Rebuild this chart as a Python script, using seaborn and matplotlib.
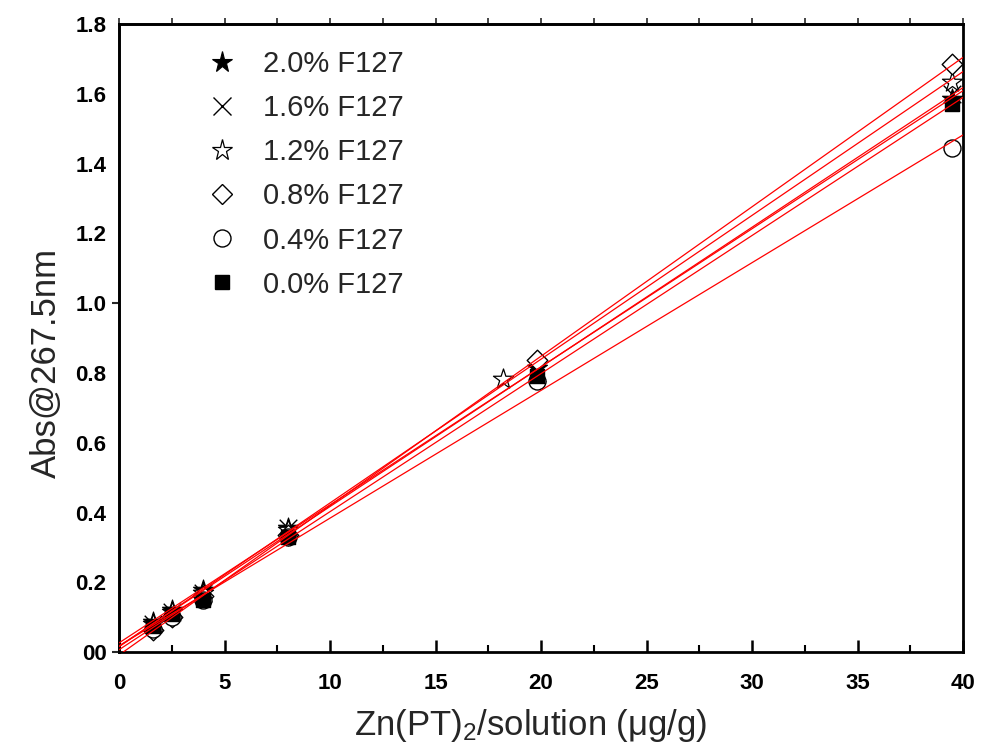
import matplotlib
matplotlib.use("Agg")
import matplotlib.pyplot as plt
import seaborn as sns
import numpy as np
import pandas as pd
from matplotlib.lines import Line2D

# ---- data ----
series_labels = ["2.0% F127", "1.6% F127", "1.2% F127", "0.8% F127", "0.4% F127", "0.0% F127"]
x_common = [1.6, 2.5, 4.0, 8.0, 19.8, 39.5]
x_12 = [1.6, 2.5, 4.0, 8.0, 18.2, 39.5]
y_20 = [0.085, 0.122, 0.178, 0.357, 0.815, 1.585]
y_16 = [0.080, 0.115, 0.170, 0.355, 0.800, 1.600]
y_12 = [0.080, 0.115, 0.170, 0.350, 0.784, 1.635]
y_08 = [0.063, 0.100, 0.160, 0.335, 0.836, 1.685]
y_04 = [0.065, 0.100, 0.150, 0.330, 0.778, 1.445]
y_00 = [0.075, 0.110, 0.150, 0.330, 0.790, 1.570]
x_ticks = [0, 5, 10, 15, 20, 25, 30, 35, 40]
y_ticks = [0.0, 0.2, 0.4, 0.6, 0.8, 1.0, 1.2, 1.4, 1.6, 1.8]
y_ticklabels = ["00", "0.2", "0.4", "0.6", "0.8", "1.0", "1.2", "1.4", "1.6", "1.8"]

xs = [x_common, x_common, x_12, x_common, x_common, x_common]
ys = [y_20, y_16, y_12, y_08, y_04, y_00]

styles = [
    dict(marker="*", s=230, facecolor="black", edgecolor="black", lw=0.8),
    dict(marker="x", s=160, facecolor="black", edgecolor="black", lw=1.0),
    dict(marker="*", s=230, facecolor="white", edgecolor="black", lw=0.9),
    dict(marker="D", s=110, facecolor="white", edgecolor="black", lw=1.0),
    dict(marker="o", s=150, facecolor="white", edgecolor="black", lw=1.0),
    dict(marker="s", s=110, facecolor="black", edgecolor="black", lw=1.0),
]

sns.set_theme(style="white")
plt.rcParams["font.family"] = ["Liberation Sans", "DejaVu Sans"]
plt.rcParams["mathtext.fontset"] = "custom"
plt.rcParams["mathtext.rm"] = "Liberation Sans"
plt.rcParams["mathtext.it"] = "Liberation Sans"
plt.rcParams["mathtext.bf"] = "Liberation Sans:bold"

fig = plt.figure(figsize=(9.84, 7.53), dpi=100)
ax = fig.add_axes([0.121, 0.134, 0.8577, 0.834])
ax.set_xlim(0, 40)
ax.set_ylim(0, 1.8)

handles = []
for lab, x, y, st in zip(series_labels, xs, ys, styles):
    df = pd.DataFrame({"x": x, "y": y})
    if st["marker"] == "x":
        sns.scatterplot(data=df, x="x", y="y", ax=ax, marker="x", s=st["s"],
                        color="black", linewidth=st["lw"], zorder=3)
    else:
        sns.scatterplot(data=df, x="x", y="y", ax=ax, marker=st["marker"], s=st["s"],
                        facecolor=st["facecolor"], edgecolor=st["edgecolor"],
                        linewidth=st["lw"], zorder=3)
    sns.regplot(data=df, x="x", y="y", ax=ax, scatter=False, ci=None, truncate=False,
                line_kws=dict(color="red", lw=0.9, zorder=4))
    ms = np.sqrt(st["s"])
    if st["marker"] == "x":
        h = Line2D([], [], marker="x", ls="none", color="black", markersize=ms, mew=1.0)
    else:
        h = Line2D([], [], marker=st["marker"], ls="none", markerfacecolor=st["facecolor"],
                   markeredgecolor="black", markersize=ms, mew=st["lw"])
    handles.append(h)

ax.set_xlim(0, 40)
ax.set_ylim(0, 1.8)
ax.set_xticks(x_ticks)
ax.set_xticklabels([str(t) for t in x_ticks])
ax.set_yticks(y_ticks)
ax.set_yticklabels(y_ticklabels)
ax.set_xticks(np.arange(2.5, 40, 5), minor=True)
ax.set_yticks(np.arange(0.1, 1.8, 0.2), minor=True)

for sp in ax.spines.values():
    sp.set_visible(True)
    sp.set_color("black")
    sp.set_linewidth(2.0)

ax.tick_params(axis="both", which="major", direction="in", length=9, width=1.8,
               colors="black", labelsize=16)
ax.tick_params(axis="y", which="major", pad=9)
ax.tick_params(axis="x", which="major", pad=15)
ax.tick_params(axis="both", which="minor", direction="in", length=5, width=1.5, colors="black")
ax.tick_params(axis="x", which="both", top=False, bottom=True, labeltop=False)
for lab in ax.get_xticklabels() + ax.get_yticklabels():
    lab.set_fontweight("bold")

# top ticks outward
ax_top = ax.secondary_xaxis("top")
ax_top.set_xticks(np.arange(0, 40.1, 2.5))
ax_top.tick_params(direction="out", length=4, width=1.2, labeltop=False)
ax_top.spines["top"].set_linewidth(2.0)

# small outward ticks on left at 0 and 1.0
ax_left = ax.secondary_yaxis("left")
ax_left.set_yticks([0.0, 1.0])
ax_left.tick_params(direction="out", length=5, width=1.5, labelleft=False)
ax_left.spines["left"].set_linewidth(2.0)

ax.set_xlabel(r"Zn(PT)$_2$/solution ($\mu$g/g)", fontsize=25)
ax.set_ylabel("Abs@267.5nm", fontsize=25)
ax.xaxis.set_label_coords(0.488, -0.088)
ax.yaxis.set_label_coords(-0.066, 0.46)
ax.grid(False)

ax.legend(handles=handles, labels=series_labels, loc="upper left",
          bbox_to_anchor=(0.07, 1.0), frameon=False, fontsize=21,
          handletextpad=0.8, labelspacing=0.55, handlelength=1.2)

fig.savefig("out.png", dpi=100)
